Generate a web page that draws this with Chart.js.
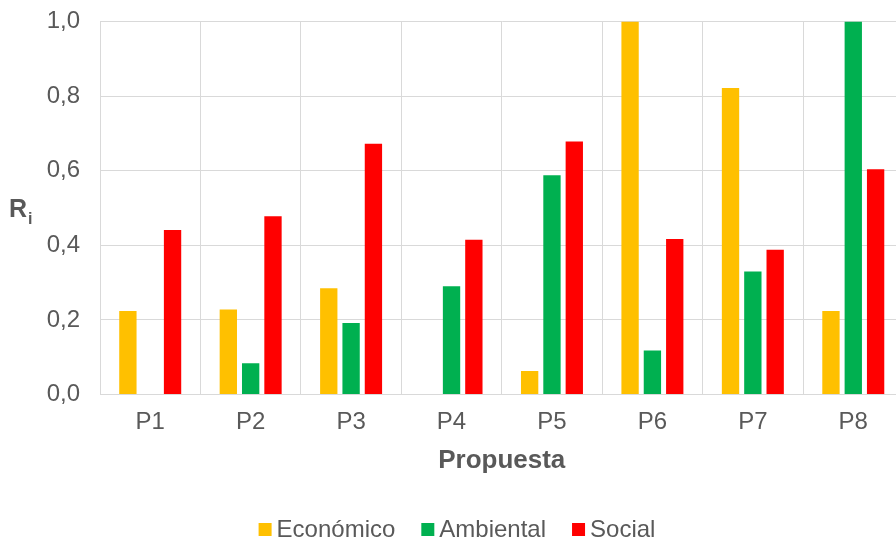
<!DOCTYPE html>
<html>
<head>
<meta charset="utf-8">
<script src="https://cdn.jsdelivr.net/npm/chart.js@4.4.1/dist/chart.umd.min.js"></script>
<style>
  html, body { margin: 0; padding: 0; background: #ffffff; overflow: hidden; }
  #wrap { width: 914px; height: 541px; }
</style>
</head>
<body>
<div id="wrap"><canvas id="c" width="914" height="541"></canvas></div>
<script>
// Proposals and the three normalised indicators for each one
const categories = ['P1', 'P2', 'P3', 'P4', 'P5', 'P6', 'P7', 'P8'];
const economico = [0.224, 0.228, 0.285, 0, 0.063, 1.0, 0.822, 0.224];
const ambiental = [0, 0.084, 0.192, 0.290, 0.588, 0.118, 0.330, 1.0];
const social    = [0.441, 0.478, 0.672, 0.415, 0.678, 0.417, 0.388, 0.604];
const seriesNames = ['Económico', 'Ambiental', 'Social'];
const yTickLabels = ['0,0', '0,2', '0,4', '0,6', '0,8', '1,0'];
const xTitle = 'Propuesta';

const COLORS = ['#FFC000', '#00B050', '#FF0000'];
const TEXT = '#595959';
const GRID = '#D9D9D9';
const FONT = '"Liberation Sans", Arial, sans-serif';

// Horizontal "R" with subscript "i" as the value-axis title
const yTitlePlugin = {
  id: 'yTitle',
  afterDraw(chart) {
    const ctx = chart.ctx;
    const yMid = (chart.chartArea.top + chart.chartArea.bottom) / 2;
    ctx.save();
    ctx.fillStyle = TEXT;
    ctx.textAlign = 'left';
    ctx.textBaseline = 'alphabetic';
    ctx.font = 'bold 25px ' + FONT;
    ctx.fillText('R', 9, yMid + 9);
    const w = ctx.measureText('R').width;
    ctx.font = 'bold 16px ' + FONT;
    ctx.fillText('i', 9 + w + 1, yMid + 16);
    ctx.restore();
  }
};

// Legend row: small square swatches followed by the series names
const legendPlugin = {
  id: 'bottomLegend',
  afterDraw(chart) {
    const ctx = chart.ctx;
    const box = 13, gapText = 5, gapItem = 26;
    ctx.save();
    ctx.font = '24px ' + FONT;
    ctx.textBaseline = 'alphabetic';
    ctx.textAlign = 'left';
    const items = chart.data.datasets.map(ds => ({
      label: ds.label, color: ds.backgroundColor, w: ctx.measureText(ds.label).width
    }));
    let total = 0;
    items.forEach((it, i) => { total += box + gapText + it.w + (i < items.length - 1 ? gapItem : 0); });
    let x = chart.width / 2 - total / 2;
    const baseY = chart.height - 4;
    items.forEach(it => {
      ctx.fillStyle = it.color;
      ctx.fillRect(x, baseY - 14, box, box);
      ctx.fillStyle = TEXT;
      ctx.fillText(it.label, x + box + gapText, baseY);
      x += box + gapText + it.w + gapItem;
    });
    ctx.restore();
  }
};

const seriesValues = [economico, ambiental, social];

new Chart(document.getElementById('c'), {
  type: 'bar',
  data: {
    labels: categories,
    datasets: seriesNames.map((name, i) => ({
      label: name,
      data: seriesValues[i],
      backgroundColor: COLORS[i],
      borderWidth: 0,
      categoryPercentage: 0.667,
      barPercentage: 0.776
    }))
  },
  options: {
    responsive: false,
    devicePixelRatio: 1,
    animation: false,
    layout: { padding: { left: 0, right: 10.5, top: 21.5, bottom: 0 } },
    plugins: {
      legend: { display: false },
      tooltip: { enabled: false }
    },
    scales: {
      x: {
        grid: { color: GRID, lineWidth: 1, drawTicks: false, offset: true },
        border: { color: GRID, width: 1 },
        ticks: { color: TEXT, font: { family: FONT, size: 24 }, padding: 13 },
        title: {
          display: true, text: xTitle, color: TEXT,
          font: { family: FONT, size: 26, weight: 'bold' },
          padding: { top: 0, bottom: 65 }
        },
        afterFit(scale) { scale.height = 146.5; }
      },
      y: {
        min: 0, max: 1,
        grid: { color: GRID, lineWidth: 1, drawTicks: false },
        border: { color: GRID, width: 1 },
        ticks: {
          stepSize: 0.2, color: TEXT, padding: 20,
          font: { family: FONT, size: 24 },
          callback: (v, i) => yTickLabels[i]
        },
        afterFit(scale) {
          scale.width = 100;
          scale.paddingTop = 0;
          scale.paddingBottom = 0;
        }
      }
    }
  },
  plugins: [yTitlePlugin, legendPlugin]
});
</script>
</body>
</html>
